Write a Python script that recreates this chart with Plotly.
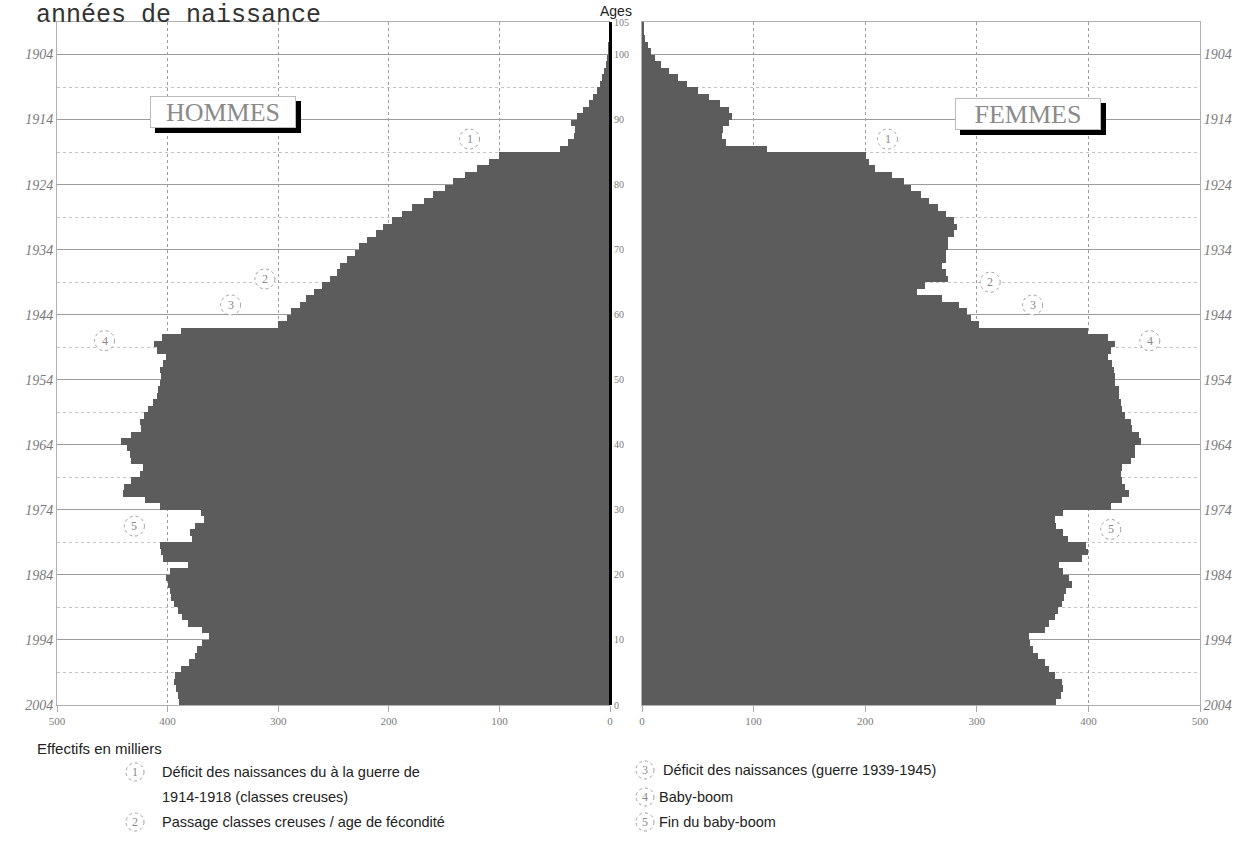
import plotly.graph_objects as go

# --- données (effectifs en milliers, âge 0 à 104) ---
ages = list(range(105))

hommes = [
    390, 391, 392, 394, 393, 388, 381, 375, 373, 369,
    363, 369, 382, 387, 391, 394, 397, 398, 400, 401,
    398, 382, 404, 406, 407, 378, 380, 375, 367, 370,
    407, 420, 440, 439, 433, 425, 422, 433, 434, 437,
    442, 433, 424, 425, 421, 418, 413, 410, 409, 407,
    406, 407, 404, 401, 410, 412, 405, 388, 300, 292,
    288, 280, 275, 268, 260, 253, 247, 244, 238, 231,
    227, 220, 212, 205, 197, 188, 179, 168, 160, 149,
    142, 131, 120, 109, 100, 45, 38, 33, 32, 35,
    30, 24, 19, 15, 12, 9, 7, 5, 3.5, 2.5,
    1.5, 1, 0.6, 0.4, 0.2,
]

femmes = [
    371, 375, 377, 376, 370, 365, 361, 355, 350, 348,
    347, 361, 365, 370, 373, 376, 378, 380, 385, 383,
    377, 374, 394, 400, 398, 382, 377, 371, 370, 377,
    420, 430, 436, 433, 430, 429, 430, 438, 442, 442,
    447, 445, 439, 438, 433, 430, 429, 427, 427, 424,
    424, 423, 421, 418, 420, 424, 418, 400, 302, 295,
    291, 284, 269, 246, 254, 274, 272, 269, 272, 272,
    274, 274, 280, 282, 280, 272, 265, 257, 250, 241,
    235, 224, 209, 203, 201, 112, 75, 72, 73, 78,
    81, 78, 70, 60, 50, 40, 32, 24, 17, 12,
    8, 5, 3, 2, 1,
]

ages_ticks = [0, 10, 20, 30, 40, 50, 60, 70, 80, 90, 100]
annees_naissance = ['2004', '1994', '1984', '1974', '1964', '1954',
                    '1944', '1934', '1924', '1914', '1904']
ages_centre = [0, 10, 20, 30, 40, 50, 60, 70, 80, 90, 100, 105]
ages_minor = [5, 15, 25, 35, 45, 55, 65, 75, 85, 95]
effectifs_ticks = [0, 100, 200, 300, 400, 500]

# repères numérotés (effectif, âge, numéro)
reperes_hommes = [(127, 87, '1'), (312, 65.5, '2'), (343, 61.5, '3'),
                  (457, 56, '4'), (430, 27.5, '5')]
reperes_femmes = [(220, 87, '1'), (312, 65, '2'), (350, 61.5, '3'),
                  (455, 56, '4'), (420, 27, '5')]

W, H = 1253, 854
BAR = '#5c5c5c'
GRID = '#9c9c9c'
GRID_MINOR = '#c4c4c4'
LABEL = '#7a7a7a'


def px(x):
    return x / W


def py(y):
    return 1 - y / H


fig = go.Figure()

fig.add_trace(go.Bar(
    x=hommes, y=ages, orientation='h', width=1, offset=0,
    marker=dict(color=BAR, line_width=0),
    xaxis='x', yaxis='y', showlegend=False, name='Hommes'
))
fig.add_trace(go.Bar(
    x=femmes, y=ages, orientation='h', width=1, offset=0,
    marker=dict(color=BAR, line_width=0),
    xaxis='x2', yaxis='y2', showlegend=False, name='Femmes'
))
# trace vide pour afficher l'axe des âges au centre
fig.add_trace(go.Scatter(x=[None], y=[None], xaxis='x', yaxis='y3',
                         showlegend=False, hoverinfo='skip'))

y_dom = [py(705), py(22)]

common_x = dict(
    tickvals=effectifs_ticks, showgrid=True, gridcolor=GRID, griddash='dot',
    gridwidth=1, zeroline=False, showline=True, mirror=True, automargin=False,
    linecolor='#b0b0b0', linewidth=1, ticks='outside', ticklen=6,
    tickcolor='#aaaaaa', tickfont=dict(family='Liberation Serif', size=11, color=LABEL),
)
common_y = dict(
    range=[0, 105], tickvals=ages_ticks, ticktext=annees_naissance,
    showgrid=True, gridcolor=GRID, gridwidth=1, zeroline=False, automargin=False,
    showline=True, linecolor='#b0b0b0', linewidth=1, ticks='',
    tickfont=dict(family='Liberation Serif', size=14, color=LABEL, style='italic'),
    minor=dict(tickvals=ages_minor, showgrid=True, gridcolor=GRID_MINOR,
               griddash='dot', ticks=''),
)

fig.update_layout(
    width=W, height=H, autosize=False,
    margin=dict(l=0, r=0, t=0, b=0),
    paper_bgcolor='white', plot_bgcolor='white',
    bargap=0,
    xaxis=dict(domain=[px(57), px(610)], range=[500, 0], anchor='y', **common_x),
    xaxis2=dict(domain=[px(642), px(1200)], range=[0, 500], anchor='y2', **common_x),
    yaxis=dict(domain=y_dom, anchor='x', side='left', **common_y),
    yaxis2=dict(domain=y_dom, anchor='x2', side='right', mirror=True, **common_y),
    yaxis3=dict(
        overlaying='y', anchor='free', position=px(610), side='right',
        range=[0, 105], tickvals=ages_centre, ticktext=[str(a) for a in ages_centre],
        showgrid=False, zeroline=False, showline=True, linecolor='black',
        linewidth=3, ticks='', automargin=False,
        tickfont=dict(family='Liberation Serif', size=10, color=LABEL),
    ),
)

annotations = []
shapes = []

annotations.append(dict(
    text='années de naissance', x=px(34), y=py(15), xref='paper', yref='paper',
    xanchor='left', yanchor='middle', showarrow=False,
    font=dict(family='Liberation Mono', size=25, color='#333333')))
annotations.append(dict(
    text='Ages', x=px(616), y=py(11), xref='paper', yref='paper',
    xanchor='center', yanchor='middle', showarrow=False,
    font=dict(family='Liberation Sans', size=14, color='#222222')))

# cadres HOMMES / FEMMES avec ombre
for label, x0, y0 in [('HOMMES', 150, 96), ('FEMMES', 955, 98)]:
    bw, bh = 146, 32
    shapes.append(dict(type='rect', xref='paper', yref='paper',
                       x0=px(x0 + 5), x1=px(x0 + bw + 5),
                       y0=py(y0 + bh + 5), y1=py(y0 + 5),
                       fillcolor='black', line_width=0, layer='above'))
    annotations.append(dict(
        text=label, x=px(x0 + bw / 2), y=py(y0 + bh / 2), xref='paper', yref='paper',
        xanchor='center', yanchor='middle', showarrow=False,
        width=bw - 2, height=bh - 2, bgcolor='white', bordercolor='#bbbbbb',
        borderwidth=1, borderpad=0,
        font=dict(family='Liberation Serif', size=26, color='#8a8a8a')))


def cercle(x, y, num, xref, yref, r=10):
    shapes.append(dict(type='circle', xref=xref, yref=yref,
                       xsizemode='pixel', ysizemode='pixel',
                       xanchor=x, yanchor=y, x0=-r, x1=r, y0=-r, y1=r,
                       line=dict(color='#a0a0a0', width=1, dash='dot'),
                       fillcolor='white', layer='above'))
    annotations.append(dict(text=num, x=x, y=y, xref=xref, yref=yref,
                            showarrow=False, xanchor='center', yanchor='middle',
                            font=dict(family='Liberation Serif', size=12, color='#888888')))


for v, a, n in reperes_hommes:
    cercle(v, a, n, 'x', 'y')
for v, a, n in reperes_femmes:
    cercle(v, a, n, 'x2', 'y2')

# légende en bas
annotations.append(dict(
    text='Effectifs en milliers', x=px(35), y=py(748), xref='paper', yref='paper',
    xanchor='left', yanchor='middle', showarrow=False,
    font=dict(family='Liberation Sans', size=15, color='#222222')))

legende = [
    (135, 772, '1', 160, 'Déficit des naissances du à la guerre de'),
    (None, 797, None, 160, '1914-1918 (classes creuses)'),
    (135, 822, '2', 160, 'Passage classes creuses / age de fécondité'),
    (645, 770, '3', 661, 'Déficit des naissances (guerre 1939-1945)'),
    (645, 797, '4', 657, 'Baby-boom'),
    (645, 822, '5', 657, 'Fin du baby-boom'),
]
for cx, cy, num, tx, txt in legende:
    if num is not None:
        cercle(px(cx), py(cy), num, 'paper', 'paper', r=9)
    annotations.append(dict(
        text=txt, x=px(tx), y=py(cy), xref='paper', yref='paper',
        xanchor='left', yanchor='middle', showarrow=False,
        font=dict(family='Liberation Sans', size=14.5, color='#222222')))

fig.update_layout(annotations=annotations, shapes=shapes)

# la figure occupe toute la fenêtre, sans la marge par défaut de la page
fig.write_html("out.html", config={'displayModeBar': False},
               post_script="document.body.style.margin='0';")
